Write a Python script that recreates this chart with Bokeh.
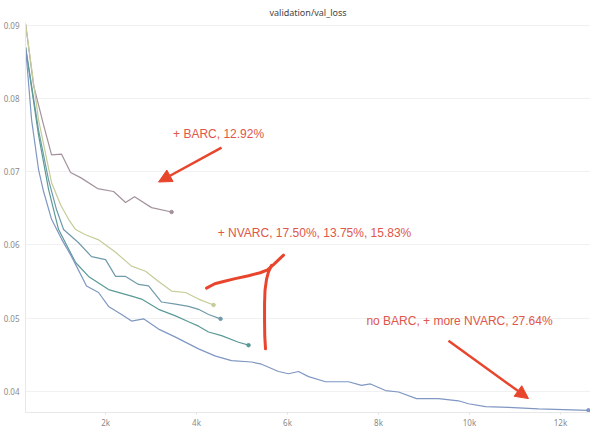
from bokeh.plotting import figure
from bokeh.models import (Range1d, FixedTicker, NumeralTickFormatter, Arrow, NormalHead)
from bokeh.core.properties import value
from bokeh.embed import file_html
from bokeh.resources import INLINE

# ---------------- data ----------------
barc_steps = [242, 418, 637, 813, 1033, 1231, 1451, 1824, 2176, 2440, 2637, 3011, 3451]
barc_loss = [0.0902, 0.0818, 0.0764, 0.0723, 0.0724, 0.0699, 0.0692, 0.0677, 0.0673,
             0.0658, 0.0666, 0.0651, 0.0645]

nv1_steps = [242, 527, 813, 1011, 1187, 1341, 1560, 1846, 2220, 2571, 2879, 3165, 3451,
             3758, 4044, 4374]
nv1_loss = [0.0902, 0.0771, 0.0685, 0.0655, 0.0635, 0.0621, 0.0614, 0.0607, 0.0590,
            0.0571, 0.0564, 0.0550, 0.0537, 0.0535, 0.0526, 0.0518]

nv2_steps = [242, 527, 747, 923, 1077, 1407, 1692, 2000, 2220, 2440, 2725, 2945, 3231,
             3538, 3824, 4044, 4264, 4527]
nv2_loss = [0.0870, 0.0757, 0.0689, 0.0648, 0.0621, 0.0603, 0.0584, 0.0580, 0.0557,
            0.0557, 0.0546, 0.0544, 0.0522, 0.0519, 0.0516, 0.0512, 0.0505, 0.0499]

nv3_steps = [242, 527, 747, 967, 1341, 1626, 2066, 2571, 2791, 3165, 3538, 3824, 4044,
             4264, 4549, 4923, 5143]
nv3_loss = [0.0870, 0.0750, 0.0676, 0.0621, 0.0576, 0.0557, 0.0539, 0.0530, 0.0526,
            0.0512, 0.0503, 0.0495, 0.0489, 0.0481, 0.0476, 0.0467, 0.0463]

more_steps = [242, 374, 527, 637, 813, 1033, 1253, 1582, 1846, 2066, 2352, 2571, 2835,
              3165, 3538, 4044, 4418, 4769, 5209, 5429, 5802, 6022, 6242, 6462, 6835,
              7341, 7626, 7824, 8154, 8440, 8835, 9319, 9758, 9978, 10352, 10857, 11516,
              12066, 12615]
more_loss = [0.0870, 0.0771, 0.0703, 0.0673, 0.0635, 0.0608, 0.0584, 0.0544, 0.0535,
             0.0516, 0.0505, 0.0496, 0.0499, 0.0485, 0.0474, 0.0458, 0.0448, 0.0442,
             0.0440, 0.0437, 0.0427, 0.0424, 0.0427, 0.0420, 0.0413, 0.0413, 0.0408,
             0.0410, 0.0401, 0.0399, 0.0390, 0.0390, 0.0387, 0.0383, 0.0379, 0.0378,
             0.0376, 0.0375, 0.0374]

x_ticks = [2000, 4000, 6000, 8000, 10000, 12000]
x_tick_labels = ["2k", "4k", "6k", "8k", "10k", "12k"]
y_ticks = [0.04, 0.05, 0.06, 0.07, 0.08, 0.09]

title_text = "validation/val_loss"

# annotations (data space)
note_texts = ["+ BARC, 12.92%", "+ NVARC, 17.50%, 13.75%, 15.83%", "no BARC, + more NVARC, 27.64%"]
note_x = [4484, 6593, 9780]
note_y = [0.0752, 0.0617, 0.0496]

arrow_x0 = [4549, 9538]
arrow_y0 = [0.0733, 0.0469]
arrow_x1 = [3165, 11297]
arrow_y1 = [0.0686, 0.0390]

brace_h_x = [4220, 4400, 4593, 4850, 5143, 5400, 5560, 5692, 5912]
brace_h_y = [0.0541, 0.0547, 0.0550, 0.0554, 0.0558, 0.0562, 0.0566, 0.0573, 0.0586]
brace_v_x = [5648, 5580, 5538, 5505, 5495, 5495, 5500, 5516]
brace_v_y = [0.0572, 0.0563, 0.0553, 0.0538, 0.0520, 0.0495, 0.0475, 0.0458]

# ---------------- styles ----------------
c_barc = "#a3929d"
c_nv1 = "#c5cc98"
c_nv2 = "#6f9aaa"
c_nv3 = "#5a9a96"
c_more = "#7f97c2"
red_text = "#e0564a"
red_mark = "#e8452d"

p = figure(frame_width=565, frame_height=390, output_backend="svg", toolbar_location=None,
           x_range=Range1d(240, 12660), y_range=Range1d(0.0371, 0.0904),
           min_border_left=19, min_border_right=0, min_border_top=0, min_border_bottom=0)

p.title.text = title_text
p.title.align = "center"
p.title.text_font = "Noto Sans"
p.title.text_font_size = "9px"
p.title.text_font_style = "normal"
p.title.text_color = "#444444"
p.title.standoff = 7

p.outline_line_color = None
p.background_fill_color = "white"

p.xaxis.ticker = FixedTicker(ticks=x_ticks)
p.xaxis.major_label_overrides = {t: l for t, l in zip(x_ticks, x_tick_labels)}
p.yaxis.ticker = FixedTicker(ticks=y_ticks)
p.yaxis.formatter = NumeralTickFormatter(format="0.00")

for ax in (p.xaxis, p.yaxis):
    ax.axis_line_color = "#e8e8e8"
    ax.major_label_text_color = "#8a8a8a"
    ax.major_label_text_font = "Noto Sans"
    ax.major_label_text_font_size = "8px"
    ax.minor_tick_line_color = None
    ax.axis_label_standoff = 0
p.xaxis.major_tick_line_color = "#e0e0e0"
p.xaxis.major_tick_out = 2
p.xaxis.major_tick_in = 0
p.xaxis.major_label_standoff = 2
p.yaxis.major_label_standoff = 6
p.yaxis.major_tick_line_color = None
p.yaxis.major_tick_out = 0
p.yaxis.major_tick_in = 0

p.xgrid.grid_line_color = None
p.ygrid.grid_line_color = "#f1f1f1"

series = [
    (barc_steps, barc_loss, c_barc),
    (nv1_steps, nv1_loss, c_nv1),
    (nv2_steps, nv2_loss, c_nv2),
    (nv3_steps, nv3_loss, c_nv3),
    (more_steps, more_loss, c_more),
]
for xs, ys, col in series:
    p.line(xs, ys, line_color=col, line_width=1.2)
    p.scatter([xs[-1]], [ys[-1]], size=3.5, fill_color=col, line_color=col)

p.text(x=note_x, y=note_y, text=note_texts, text_align="center", text_baseline="middle",
       text_font=value("Liberation Sans"), text_font_size="12px", text_color=red_text)

for xa, ya, xb, yb in zip(arrow_x0, arrow_y0, arrow_x1, arrow_y1):
    p.add_layout(Arrow(end=NormalHead(size=13, fill_color=red_mark, line_color=red_mark),
                       x_start=xa, y_start=ya, x_end=xb, y_end=yb,
                       line_color=red_mark, line_width=2.5))

p.line(brace_h_x, brace_h_y, line_color=red_mark, line_width=3, line_cap="round")
p.line(brace_v_x, brace_v_y, line_color=red_mark, line_width=3, line_cap="round")

open("out.html", "w").write(file_html(p, INLINE))
